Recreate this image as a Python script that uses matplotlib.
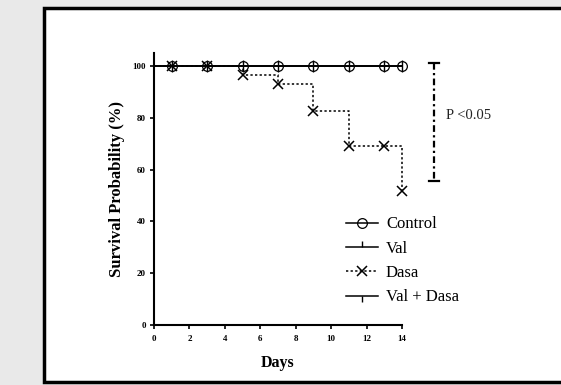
import matplotlib.pyplot as plt
from matplotlib.patches import Rectangle

plt.rcParams['font.family'] = ['Liberation Serif', 'DejaVu Serif']

days = [0, 1, 3, 5, 7, 9, 11, 13, 14]
control = [100, 100, 100, 100, 100, 100, 100, 100, 100]
val = [100, 100, 100, 100, 100, 100, 100, 100, 100]
val_dasa = [100, 100, 100, 100, 100, 100, 100, 100, 100]
dasa = [100, 100, 100, 96.6, 93.1, 82.8, 69.0, 69.0, 51.7]

x_ticks = [0, 2, 4, 6, 8, 10, 12, 14]
y_ticks = [0, 20, 40, 60, 80, 100]

# bracket for the significance mark
p_x = 15.8
p_top = 101.2
p_bottom = 55.6
p_label = "P <0.05"

fig = plt.figure(figsize=(5.61, 3.85), dpi=100)
fig.patch.set_facecolor('#e9e9e9')
fig.patches.append(Rectangle((44 / 561, 3 / 385), 530 / 561, 374 / 385,
                             transform=fig.transFigure, facecolor='white',
                             edgecolor='black', linewidth=2.5, zorder=-5))

ax = fig.add_axes([154 / 561, 60 / 385, 248 / 561, 272 / 385])
ax.set_facecolor('none')
ax.set_zorder(5)

ms = dict(markevery=slice(1, None), color='black', clip_on=False)
ax.step(days, control, where='post', lw=1.1, marker='o', ms=7,
        mfc='none', mew=0.9, label='Control', **ms)
ax.step(days, val, where='post', lw=1.1, marker=2, ms=4.5, mew=1.0,
        label='Val', **ms)
ax.step(days, dasa, where='post', lw=1.1, dashes=(1.5, 1.5), marker='x',
        ms=6.5, mew=1.1, label='Dasa', **ms)
ax.step(days, val_dasa, where='post', lw=1.1, marker=3, ms=4.5, mew=1.0,
        label='Val + Dasa', **ms)

# P value bracket
ax.plot([p_x, p_x], [p_top, p_bottom], color='black', lw=1.6,
        dashes=(3, 1.5, 1, 1.5), clip_on=False)
ax.plot([p_x - 0.3, p_x + 0.3], [p_top, p_top], color='black', lw=1.6, clip_on=False)
ax.plot([p_x - 0.3, p_x + 0.3], [p_bottom, p_bottom], color='black', lw=1.6, clip_on=False)
ax.text(p_x + 0.7, 81, p_label, fontsize=10.5, va='center', ha='left', color='#222222')

ax.set_xlim(0, 14)
ax.set_ylim(0, 105)
ax.set_xticks(x_ticks)
ax.set_yticks(y_ticks)
for lbl in ax.get_xticklabels() + ax.get_yticklabels():
    lbl.set_fontweight('bold')
ax.tick_params(axis='both', labelsize=6.5, width=1.2, length=3, direction='out', pad=3)
ax.tick_params(axis='x', pad=4.5)

for s in ['top', 'right']:
    ax.spines[s].set_visible(False)
for s in ['left', 'bottom']:
    ax.spines[s].set_linewidth(1.5)

ax.set_xlabel('Days', fontsize=11.5, fontweight='bold', labelpad=8.5)
ax.set_ylabel('Survival Probability (%)', fontsize=12, fontweight='bold', labelpad=5.5)

ax.legend(loc='upper left', bbox_to_anchor=(0.774, 0.399), frameon=False,
          fontsize=12, handlelength=1.95, labelspacing=0.5, handletextpad=0.45,
          borderpad=0, borderaxespad=0)

fig.savefig('out.png', dpi=100, facecolor=fig.get_facecolor())
